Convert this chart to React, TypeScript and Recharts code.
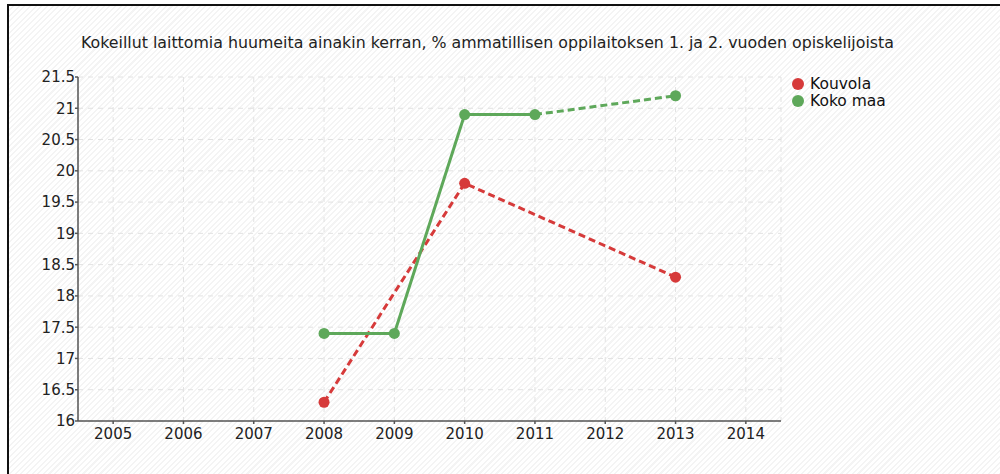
import React from "react";
import { LineChart, Line, XAxis, YAxis, CartesianGrid } from "recharts";

const years = [2005, 2006, 2007, 2008, 2009, 2010, 2011, 2012, 2013, 2014];
const kouvola: (number | null)[] = [null, null, null, 16.3, null, 19.8, null, null, 18.3, null];
const kokoMaa: (number | null)[] = [null, null, null, 17.4, 17.4, 20.9, 20.9, null, 21.2, null];
const yTicks = [16, 16.5, 17, 17.5, 18, 18.5, 19, 19.5, 20, 20.5, 21, 21.5];
const title =
  "Kokeillut laittomia huumeita ainakin kerran, % ammatillisen oppilaitoksen 1. ja 2. vuoden opiskelijoista";
const seriesNames = ["Kouvola", "Koko maa"];
const colors = ["#d63a3a", "#5ea85a"];

function solidPart(v: (number | null)[]) {
  return v.map((x, i) =>
    x != null && ((i > 0 && v[i - 1] != null) || (i < v.length - 1 && v[i + 1] != null)) ? x : null
  );
}
function gapPart(v: (number | null)[]) {
  return v.map((x, i) => {
    if (x == null) return null;
    const prevGap = i > 0 && v[i - 1] == null && v.slice(0, i - 1).some((y) => y != null);
    const nextGap = i < v.length - 1 && v[i + 1] == null && v.slice(i + 2).some((y) => y != null);
    return prevGap || nextGap ? x : null;
  });
}

const series = [kouvola, kokoMaa];
const data = years.map((year, i) => {
  const row: Record<string, number | null> = { year };
  series.forEach((s, k) => {
    row[`all${k}`] = s[i];
    row[`solid${k}`] = solidPart(s)[i];
    row[`gap${k}`] = gapPart(s)[i];
  });
  return row;
});

const FONT = "'DejaVu Sans', Verdana, sans-serif";

export default function App() {
  return (
    <div
      style={{
        position: "absolute",
        left: 0,
        top: 0,
        width: 1000,
        height: 474,
        background: "#fff",
        overflow: "hidden",
        fontFamily: FONT,
      }}
    >
      <div
        style={{
          position: "absolute",
          left: 7,
          top: 4,
          width: 1000,
          height: 480,
          borderTop: "2px solid #111",
          borderLeft: "2px solid #111",
          background:
            "repeating-linear-gradient(135deg, #ffffff 0px, #ffffff 2.5px, #f4f4f4 2.5px, #f4f4f4 4px)",
        }}
      />
      <div
        style={{
          position: "absolute",
          left: 81,
          top: 33,
          fontSize: 15.8,
          color: "#222",
          whiteSpace: "nowrap",
        }}
      >
        {title}
      </div>
      <div style={{ position: "absolute", left: 0, top: 0 }}>
        <LineChart
          width={1000}
          height={474}
          data={data}
          margin={{ top: 77, right: 219, bottom: 23, left: 0 }}
        >
          <CartesianGrid stroke="#e2e2e2" strokeDasharray="5 5" />
          <XAxis
            dataKey="year"
            type="number"
            domain={[2004.5, 2014.5]}
            allowDataOverflow
            ticks={years}
            interval={0}
            height={30}
            tickSize={3}
            tickMargin={4}
            stroke="#555"
            strokeWidth={1.5}
            tick={{ fill: "#222", fontSize: 15, fontFamily: FONT }}
          />
          <YAxis
            type="number"
            domain={[16, 21.5]}
            allowDataOverflow
            ticks={yTicks}
            interval={0}
            width={78}
            tickSize={3}
            tickMargin={0}
            stroke="#555"
            strokeWidth={1.5}
            tick={{ fill: "#222", fontSize: 15, fontFamily: FONT }}
          />
          {series.map((_, k) => (
            <Line
              key={`g${k}`}
              dataKey={`gap${k}`}
              stroke={colors[k]}
              strokeWidth={3}
              strokeDasharray="7 4"
              connectNulls
              dot={false}
              activeDot={false}
              isAnimationActive={false}
            />
          ))}
          {series.map((_, k) => (
            <Line
              key={`s${k}`}
              dataKey={`solid${k}`}
              stroke={colors[k]}
              strokeWidth={3}
              dot={false}
              activeDot={false}
              isAnimationActive={false}
            />
          ))}
          {series.map((_, k) => (
            <Line
              key={`a${k}`}
              dataKey={`all${k}`}
              stroke="none"
              strokeWidth={0}
              dot={{ r: 5.5, fill: colors[k], stroke: "none" }}
              activeDot={false}
              isAnimationActive={false}
            />
          ))}
        </LineChart>
      </div>
      <div style={{ position: "absolute", left: 792, top: 75 }}>
        {seriesNames.map((n, k) => (
          <div
            key={n}
            style={{ display: "flex", alignItems: "center", height: 17, fontSize: 15.5, color: "#111" }}
          >
            <span
              style={{
                display: "inline-block",
                width: 12,
                height: 12,
                borderRadius: 6,
                background: colors[k],
                marginRight: 6,
              }}
            />
            {n}
          </div>
        ))}
      </div>
    </div>
  );
}
